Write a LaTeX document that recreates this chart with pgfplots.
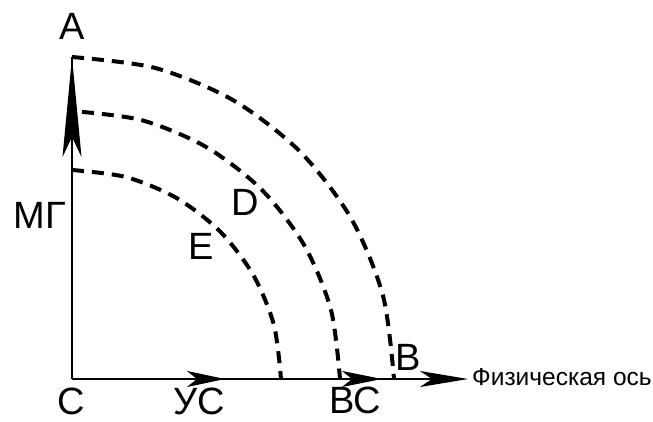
\documentclass[border=0pt]{standalone}
\usepackage{pgfplots}
\pgfplotsset{compat=1.18}
\usepackage{fontspec}
\setmainfont{Liberation Sans}
\usetikzlibrary{arrows.meta}
\newcommand{\bigfont}{\fontsize{38}{38}\selectfont}
\begin{document}
\begin{tikzpicture}
\begin{axis}[x=1pt,y=1pt,xmin=0,xmax=653,ymin=0,ymax=421,
  axis lines=none, scale only axis, clip=false]
\path (axis cs:0,0) rectangle (axis cs:653,421);
% dashed arcs
\addplot[black, line width=4pt, dash pattern=on 12pt off 8pt, smooth] coordinates {
(72,364)(155.3,353)(233,320.9)(299.7,269.7)(350.9,203)(383.0,125.3)(394,42)};
\addplot[black, line width=4pt, dash pattern=on 12pt off 8pt, dash phase=10pt, smooth] coordinates {
(72,310)(141.4,300.9)(206,274.1)(261.5,231.5)(304.1,176)(330.9,111.4)(340,42)};
\addplot[black, line width=4pt, dash pattern=on 12pt off 8pt, smooth] coordinates {
(72,251)(126.1,243.9)(176.5,223)(219.8,189.8)(253,146.5)(273.9,96.1)(281,42)};
% axes
\addplot[black, line width=2pt] coordinates {(72,42)(72,364)};
\addplot[black, line width=2pt, -{Stealth[length=100pt,width=19pt,inset=20pt]}] coordinates {(72,42)(72,364)};
\addplot[black, line width=2pt, -{Stealth[length=48pt,width=16pt,inset=12pt]}] coordinates {(72,42)(468,42)};
\addplot[black, line width=2pt, -{Stealth[length=38pt,width=16pt,inset=10pt]}] coordinates {(72,42)(225,42)};
\addplot[black, line width=2pt, -{Stealth[length=40pt,width=16pt,inset=10pt]}] coordinates {(72,42)(382,42)};
% labels
\node[inner sep=0pt, font=\bigfont] at (axis cs:72,395) {A};
\node[inner sep=0pt, font=\bigfont] at (axis cs:40,206) {МГ};
\node[inner sep=0pt, font=\bigfont] at (axis cs:71,20) {C};
\node[inner sep=0pt, font=\bigfont] at (axis cs:199,20) {УС};
\node[inner sep=0pt, font=\bigfont] at (axis cs:355,21) {ВС};
\node[inner sep=0pt, font=\bigfont] at (axis cs:408,64) {B};
\node[inner sep=0pt, font=\bigfont] at (axis cs:245,219) {D};
\node[inner sep=0pt, font=\bigfont] at (axis cs:201,175) {E};
\node[anchor=west, inner sep=0pt, font=\fontsize{24.5}{24.5}\selectfont] at (axis cs:472,44) {Физическая ось};
\end{axis}
\end{tikzpicture}
\end{document}
